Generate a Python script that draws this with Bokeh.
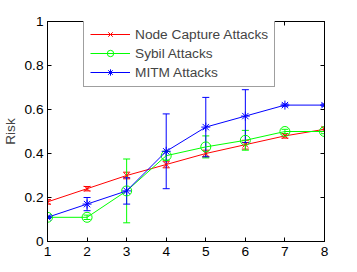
from bokeh.plotting import figure
from bokeh.models import (ColumnDataSource, Whisker, TeeHead, Range1d, LinearAxis,
                          FixedTicker, CustomJSTickFormatter, Legend, LegendItem)
from bokeh.embed import file_html
from bokeh.resources import INLINE

x_vals = [1, 2, 3, 4, 5, 6, 7, 8]
node_capture = [0.18, 0.24, 0.30, 0.35, 0.40, 0.44, 0.48, 0.51]
node_capture_err = [0.01, 0.01, 0.015, 0.015, 0.015, 0.02, 0.01, 0.01]
sybil = [0.11, 0.11, 0.23, 0.39, 0.43, 0.46, 0.50, 0.50]
sybil_err = [0.005, 0.01, 0.145, 0.02, 0.05, 0.045, 0.01, 0.01]
mitm = [0.11, 0.17, 0.23, 0.41, 0.52, 0.57, 0.62, 0.62]
mitm_err = [0.005, 0.03, 0.06, 0.17, 0.135, 0.12, 0.005, 0.005]
series_names = ["Node Capture Attacks", "Sybil Attacks", "MITM Attacks"]
x_ticks = [1, 2, 3, 4, 5, 6, 7, 8]
y_ticks = [0, 0.2, 0.4, 0.6, 0.8, 1.0]

FONT = "Liberation Sans"
FS = "13.7px"

p = figure(frame_width=277, frame_height=220, output_backend="svg", toolbar_location=None,
           x_range=Range1d(1, 8), y_range=Range1d(0, 1),
           min_border_left=47, min_border_right=20, min_border_top=21, min_border_bottom=23)
p.background_fill_color = "white"
p.border_fill_color = "white"
p.outline_line_color = "black"
p.outline_line_width = 1
p.xgrid.visible = False
p.ygrid.visible = False

ytick_fmt = CustomJSTickFormatter(code="return String(Math.round(tick*10)/10);")
blank_fmt = CustomJSTickFormatter(code="return '';")

for ax in [p.xaxis[0], p.yaxis[0]]:
    ax.major_tick_in = 4
    ax.major_tick_out = 0
    ax.minor_tick_in = 0
    ax.minor_tick_out = 0
    ax.axis_line_color = "black"
    ax.major_tick_line_color = "black"
    ax.major_label_text_font = FONT
    ax.major_label_text_font_size = FS
    ax.major_label_text_color = "black"
p.xaxis[0].ticker = FixedTicker(ticks=x_ticks)
p.yaxis[0].ticker = FixedTicker(ticks=y_ticks)
p.yaxis[0].formatter = ytick_fmt
p.xaxis[0].major_label_standoff = 5
p.yaxis[0].major_label_standoff = 4
p.yaxis[0].axis_label = "Risk"
p.yaxis[0].axis_label_text_font = FONT
p.yaxis[0].axis_label_text_font_size = FS
p.yaxis[0].axis_label_text_font_style = "normal"
p.yaxis[0].axis_label_standoff = 3

# mirror axes (ticks only) on top and right
top_ax = LinearAxis(ticker=FixedTicker(ticks=x_ticks), formatter=blank_fmt,
                    major_tick_in=4, major_tick_out=0,
                    minor_tick_in=0, minor_tick_out=0,
                    major_label_standoff=0, axis_line_color="black")
right_ax = LinearAxis(ticker=FixedTicker(ticks=y_ticks), formatter=blank_fmt,
                      major_tick_in=4, major_tick_out=0,
                      minor_tick_in=0, minor_tick_out=0,
                      major_label_standoff=0, axis_line_color="black")
p.add_layout(top_ax, "above")
p.add_layout(right_ax, "right")

colors = ["#ff0000", "#00ff00", "#0000ff"]
markers = ["x", "circle", "asterisk"]
sizes = [8, 10, 9]
ys = [node_capture, sybil, mitm]
errs = [node_capture_err, sybil_err, mitm_err]

items = []
for name, c, m, s, y, e in zip(series_names, colors, markers, sizes, ys, errs):
    src = ColumnDataSource(dict(x=x_vals, y=y,
                                upper=[a + b for a, b in zip(y, e)],
                                lower=[a - b for a, b in zip(y, e)]))
    w = Whisker(source=src, base="x", upper="upper", lower="lower",
                line_color=c, line_width=1,
                upper_head=TeeHead(size=7, line_color=c, line_width=1),
                lower_head=TeeHead(size=7, line_color=c, line_width=1))
    p.add_layout(w)
    lr = p.line("x", "y", source=src, line_color=c, line_width=1)
    if m == "circle":
        sr = p.scatter("x", "y", source=src, marker=m, size=s, line_color=c,
                       fill_color=None, line_width=1)
    else:
        sr = p.scatter("x", "y", source=src, marker=m, size=s, line_color=c,
                       fill_color=c, line_width=1)
    items.append(LegendItem(label=name, renderers=[lr, sr]))

legend = Legend(items=items, location=(36, 154), glyph_width=40, glyph_height=16,
                label_height=16, spacing=3, padding=6, margin=0, label_standoff=5,
                label_text_font=FONT, label_text_font_size=FS,
                border_line_color="#404040", border_line_width=1.5,
                background_fill_color="white", background_fill_alpha=1)
p.add_layout(legend, "center")

open("out.html", "w").write(file_html(p, INLINE))
